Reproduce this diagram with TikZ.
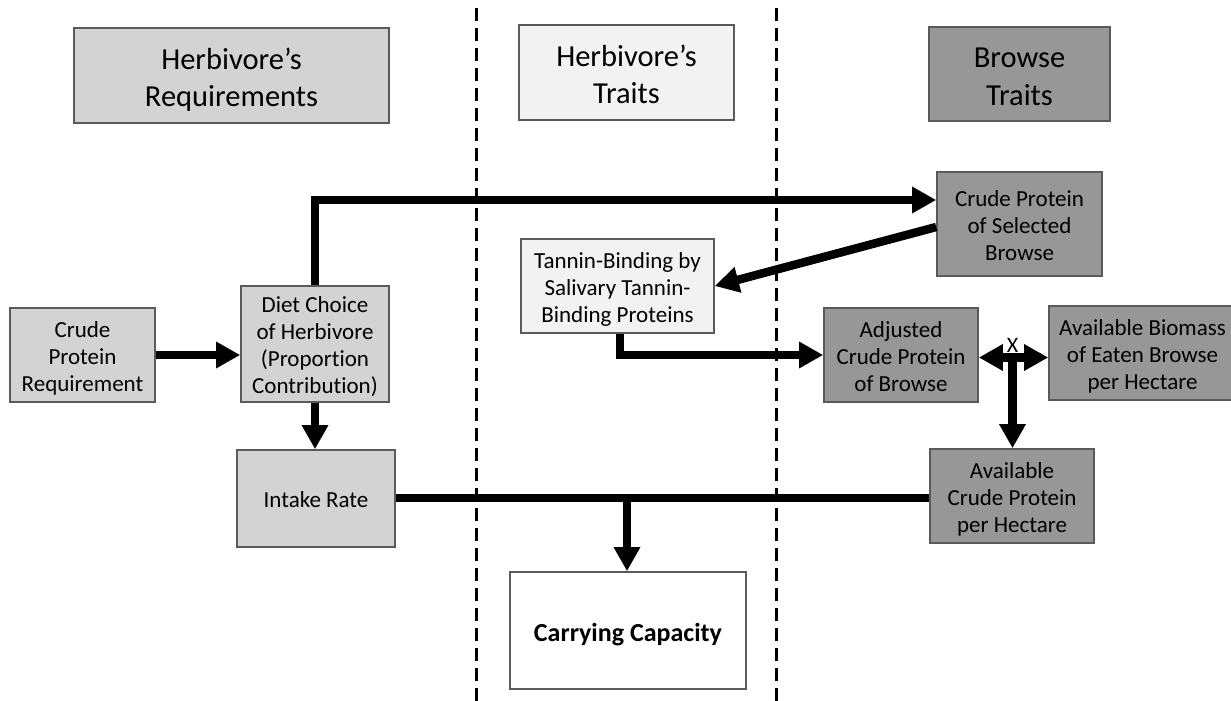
\documentclass[tikz,border=0pt]{standalone}
\usepackage{fontspec}
\setmainfont{Carlito}[Ligatures={TeX,CommonOff}]
\usetikzlibrary{arrows.meta}
\definecolor{reqgray}{HTML}{D3D3D3}
\definecolor{traitgray}{HTML}{F2F2F2}
\definecolor{browsegray}{HTML}{979797}
\definecolor{edgegray}{HTML}{5A5A5A}
\newcommand{\tstr}{\rule{0pt}{1.07em}}
\newcommand{\bstr}{\rule[-0.26em]{0pt}{0.26em}}
\tikzset{
  box/.style={draw=edgegray, line width=1.6pt, inner sep=0pt, align=center, text=black,
    font=\fontsize{23}{27}\selectfont},
  headbox/.style={box, font=\fontsize{30.5}{37.5}\selectfont},
  ccbox/.style={box, fill=white, font=\fontsize{26}{31}\selectfont\bfseries},
  reqbox/.style={box, fill=reqgray},
  traitbox/.style={box, fill=traitgray},
  browsebox/.style={box, fill=browsegray},
  conn/.style={line width=8.5pt, black},
  arr/.style={conn, -{Triangle[length=24pt,width=25pt]}},
  dblarr/.style={conn, {Triangle[length=24pt,width=25pt]}-{Triangle[length=24pt,width=25pt]}},
  divider/.style={line width=3pt, black, dash pattern=on 13pt off 7pt},
}
\begin{document}
\begin{tikzpicture}[x=1pt,y=-1pt]
\useasboundingbox (0,0) rectangle (1231,701);
\clip (0,0) rectangle (1231,701);
\fill[white] (0,0) rectangle (1231,701);

% dividers
\coordinate (d1t) at (476,8);
\coordinate (d1b) at (476,701);
\coordinate (d2t) at (776,8);
\coordinate (d2b) at (776,701);
\draw[divider] (d1t) -- (d1b);
\draw[divider] (d2t) -- (d2b);

% headers
\node[headbox, fill=reqgray, minimum width=315, minimum height=95] (hreq) at (231.5,75.5) {\tstr Herbivore’s\\Requirements\bstr};
\node[headbox, fill=traitgray, minimum width=215, minimum height=95] (htr) at (626.5,72.5) {\tstr Herbivore’s\\Traits\bstr};
\node[headbox, fill=browsegray, minimum width=181, minimum height=94] (hbr) at (1019.5,74) {\tstr Browse\\Traits\bstr};

% boxes
\node[reqbox, minimum width=145, minimum height=94] (cpr) at (82.5,355) {\tstr Crude\\Protein\\Requirement\bstr};
\node[reqbox, minimum width=148, minimum height=116] (diet) at (315,344) {\tstr Diet Choice\\of Herbivore\\(Proportion\\Contribution)\bstr};
\node[reqbox, minimum width=158, minimum height=97] (intake) at (316,498.5) {\tstr Intake Rate\bstr};
\node[traitbox, minimum width=193, minimum height=94] (tannin) at (617.5,286) {\tstr Tannin-Binding by\\Salivary Tannin-\\Binding Proteins\bstr};
\node[browsebox, minimum width=165, minimum height=104] (cps) at (1019.5,224) {\tstr Crude Protein\\of Selected\\Browse\bstr};
\node[browsebox, minimum width=154, minimum height=94] (adj) at (901,355) {\tstr Adjusted\\Crude Protein\\of Browse\bstr};
\node[browsebox, minimum width=187, minimum height=94] (bio) at (1142.5,353) {\tstr Available Biomass\\of Eaten Browse\\per Hectare\bstr};
\node[browsebox, minimum width=164, minimum height=94] (acp) at (1012,496) {\tstr Available\\Crude Protein\\per Hectare\bstr};
\node[ccbox, minimum width=236, minimum height=117] (cc) at (628,630.5) {\tstr Carrying Capacity\bstr};

% connectors
\draw[arr] (cpr.east) -- (diet.west |- cpr.east);
\draw[arr] (diet.south) -- (diet.south |- intake.north);
\draw[arr] (diet.north) |- ([yshift=24pt]cps.west);
\draw[arr] ([yshift=-3pt]cps.west) -- (tannin.east);
\draw[arr] ([xshift=2.5pt]tannin.south) |- (adj.west);
\coordinate (xj) at (1012.5,357.5);
\draw[dblarr] (adj.east |- xj) -- (bio.west |- xj);
\node[font=\fontsize{22}{26}\selectfont, inner sep=0pt] (xlab) at (1012.5,345) {X};
\draw[arr] (xj) -- (xj |- acp.north);
\coordinate (ij) at (395,498);
\draw[conn] (intake.east |- ij) -- (acp.west |- ij);
\coordinate (cj) at (627,498);
\draw[arr] (cj) -- (cj |- cc.north);
\end{tikzpicture}
\end{document}
